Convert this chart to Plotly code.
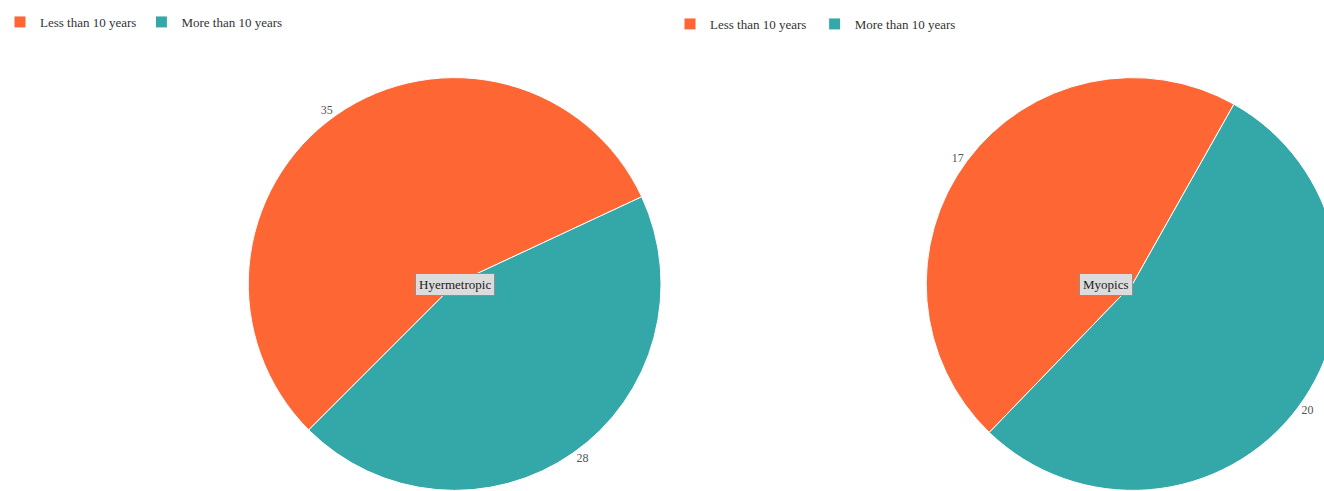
import plotly.graph_objects as go

categories = ["Less than 10 years", "More than 10 years"]
hyper_values = [35, 28]
myopic_values = [17, 20]
group_names = ["Hyermetropic", "Myopics"]
colors = ["#FE6634", "#34A8A8"]

W, H = 1344, 500
font_family = "Liberation Serif, Times New Roman, serif"

def px_x(a, b):
    return [a / W, b / W]

def px_y(top, bottom):
    return [(H - bottom) / H, (H - top) / H]

# second pie gets its own legend; labels made distinct (invisible suffix) so the
# legend entries are not merged with the first pie's
categories_b = [c + "\u00a0" for c in categories]

fig = go.Figure()
fig.add_trace(go.Pie(
    labels=categories, values=hyper_values, sort=False,
    direction="clockwise", rotation=225,
    marker=dict(colors=colors, line=dict(color="#ffffff", width=1)),
    textinfo="value", textposition="outside",
    textfont=dict(family=font_family, size=12, color="#555555"),
    domain=dict(x=px_x(249, 663), y=px_y(77, 491)),
    legend="legend", name=group_names[0], hoverinfo="label+value",
))
fig.add_trace(go.Pie(
    labels=categories_b, values=myopic_values, sort=False,
    direction="clockwise", rotation=224,
    marker=dict(colors=colors, line=dict(color="#ffffff", width=1)),
    textinfo="value", textposition="outside",
    textfont=dict(family=font_family, size=12, color="#555555"),
    domain=dict(x=px_x(929, 1343), y=px_y(77, 491)),
    legend="legend2", name=group_names[1], hoverinfo="label+value",
))

legend_style = dict(orientation="h", xanchor="left", yanchor="top",
                    font=dict(family=font_family, size=13, color="#333333"),
                    bgcolor="rgba(0,0,0,0)", itemclick=False, itemdoubleclick=False)
fig.update_layout(
    width=W, height=H,
    margin=dict(l=0, r=0, t=0, b=0),
    paper_bgcolor="white", plot_bgcolor="white",
    showlegend=True,
    legend=dict(x=0, y=1 - 7 / H, **legend_style),
    legend2=dict(x=672 / W, y=1 - 9 / H, **legend_style),
)

centers = [((249 + 663) / 2, 284), ((929 + 1343) / 2, 284)]
for name, (cx, cy) in zip(group_names, centers):
    fig.add_annotation(
        x=cx / W, y=1 - cy / H, xref="paper", yref="paper",
        text=name, showarrow=False,
        font=dict(family=font_family, size=13, color="#222222"),
        bgcolor="#dcdcdc", bordercolor="#8f8f8f", borderwidth=1, borderpad=3,
    )

fig.write_html(
    "out.html",
    config={"displayModeBar": False},
    post_script="document.body.style.margin='0';document.body.style.overflow='hidden';document.documentElement.style.overflow='hidden';",
)
